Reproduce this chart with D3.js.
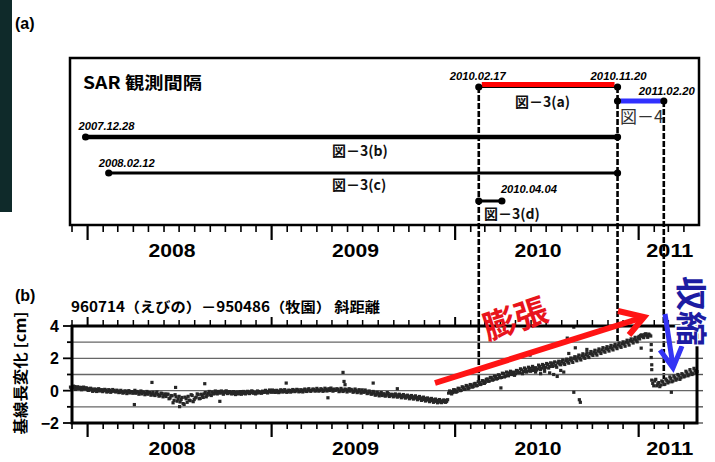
<!DOCTYPE html>
<html><head><meta charset="utf-8">
<script src="https://cdn.jsdelivr.net/npm/d3@7"></script>
<style>body{margin:0;background:#fff;} svg{display:block;}</style>
</head><body>
<svg id="c" width="715" height="462"></svg>
<script>
// ---------- data ----------
const years = ["2008", "2009", "2010", "2011"];
const yearLabelDates = ["2008-06-17", "2009-06-17", "2010-06-15", "2011-03-04"];

// SAR pairs (panel a)
const pairNames = ["図－3(a)", "図－4", "図－3(b)", "図－3(c)", "図－3(d)"];
const pairStart = ["2010-02-17", "2010-11-20", "2007-12-28", "2008-02-12", "2010-02-17"];
const pairEnd   = ["2010-11-20", "2011-02-20", "2010-11-20", "2010-11-20", "2010-04-04"];
const dateLabels = ["2007.12.28", "2008.02.12", "2010.02.17", "2010.11.20", "2011.02.20", "2010.04.04"];
const dateLabelDates = ["2007-12-28", "2008-02-12", "2010-02-17", "2010-11-20", "2011-02-20", "2010-04-04"];

// guide lines dropped from the SAR dates onto the GPS series
const guideDates = ["2010-02-17", "2010-11-20", "2011-02-20"];
const guideValues = [0.6, 3.0, 0.68];

const yTicks = [4, 2, 0, -2];

// GPS baseline change [cm]: two interleaved runs, one value every 4 days from each start date
const gpsStartA = ["2007-11-28", "2008-01-01", "2009-01-01", "2010-01-01", "2011-01-01"];
const gpsStartB = ["2007-11-30", "2008-01-03", "2009-01-03", "2010-01-03", "2011-01-03"];

const gps2007a = [0.22, 0.15, 0.25, 0.18, 0.12, 0.2, 0.14, 0.1, 0.17];
const gps2007b = [0.1, 0.28, 0.08, 0.24, 0.2, 0.06, 0.22, 0.16, 0.05];

const gps2008a = [
  0.12, 0.05, 0.1, 0.0, 0.08, 0.03, -0.02, 0.06,
  0.0, 0.04, -0.06, 0.02, -0.04, 0.01, -0.08, -0.02,
  -0.1, -0.05, -0.12, -0.03, -0.09, -0.14, -0.06, -0.11,
  -0.16, -0.08, -0.13, -0.2, -0.1, -0.17, -0.22, -0.12,
  -0.2, -0.26, -0.15, -0.24, -0.3, -0.18, -0.28, -0.36,
  -0.22, -0.45, -0.32, -0.6, -0.38, -0.52, -0.7, -0.42,
  -0.85, -0.5, -0.35, -0.62, -0.3, -0.55, -0.4, -0.25,
  -0.48, -0.3, -0.2, -0.38, -0.15, -0.25, -0.08, -0.18,
  -0.1, -0.05, -0.15, -0.08, -0.12, -0.02, -0.14, -0.09,
  -0.18, -0.1, -0.2, -0.12, -0.06, -0.16, -0.1, -0.14,
  -0.08, -0.12, -0.04, -0.1, -0.15, -0.06, -0.09, -0.03,
  -0.1, -0.05, -0.08, 0.0
];
const gps2008b = [
  0.02, 0.15, -0.04, 0.1, -0.05, 0.12, 0.04, -0.06,
  0.08, -0.08, 0.06, -0.1, 0.07, -0.05, 0.03, -0.12,
  0.02, -0.15, -0.02, -0.18, 0.0, -0.06, -0.16, 0.02,
  -0.05, -0.22, -0.02, -0.08, -0.25, -0.05, -0.12, -0.28,
  -0.1, -0.3, -0.08, -0.34, -0.15, -0.38, -0.2, -0.22,
  -0.5, -0.3, -0.75, -0.25, -0.65, -0.35, -0.55, -0.8,
  -0.4, -0.72, -0.58, -0.25, -0.68, -0.45, -0.2, -0.5,
  -0.22, -0.42, -0.12, -0.28, -0.05, -0.3, -0.2, -0.02,
  -0.2, -0.12, -0.02, -0.22, -0.04, -0.18, -0.06, -0.2,
  -0.06, -0.24, -0.08, -0.2, -0.22, -0.05, -0.2, -0.04,
  -0.18, -0.02, -0.16, -0.2, -0.02, -0.14, -0.16, -0.1,
  0.02, -0.14, 0.04, -0.1
];
const gps2009a = [
  -0.05, 0.0, -0.1, -0.03, -0.08, 0.02, -0.06, -0.02,
  -0.07, 0.01, -0.04, 0.03, -0.02, 0.05, -0.05, 0.0,
  0.04, -0.03, 0.06, 0.0, 0.03, 0.08, -0.01, 0.05,
  0.02, 0.07, 0.0, 0.09, 0.04, 0.01, 0.06, 0.1,
  0.03, 0.07, -0.02, 0.05, 0.0, 0.06, 0.02, -0.03,
  0.04, -0.05, 0.02, -0.08, -0.02, 0.05, -0.1, -0.04,
  -0.15, -0.08, -0.2, -0.12, -0.25, -0.16, -0.22, -0.3,
  -0.2, -0.28, -0.18, -0.3, -0.24, -0.33, -0.26, -0.35,
  -0.3, -0.38, -0.32, -0.4, -0.35, -0.44, -0.38, -0.46,
  -0.42, -0.5, -0.45, -0.55, -0.48, -0.58, -0.52, -0.62,
  -0.56, -0.66, -0.6, -0.7, -0.63, -0.68, -0.6, -0.66,
  -0.15, -0.05, -0.12, 0.0
];
const gps2009b = [
  0.04, -0.1, 0.02, -0.12, 0.05, -0.08, 0.06, -0.1,
  0.03, -0.09, 0.07, -0.06, 0.08, -0.07, 0.06, -0.08,
  0.1, -0.05, 0.12, -0.04, 0.1, -0.02, 0.14, -0.03,
  0.12, -0.04, 0.15, -0.02, 0.12, 0.16, -0.03, 0.02,
  0.12, -0.06, 0.14, -0.05, 0.1, -0.08, 0.12, 0.08,
  -0.1, 0.1, -0.12, 0.06, -0.15, -0.08, 0.04, -0.18,
  -0.02, -0.22, -0.05, -0.28, -0.1, -0.32, -0.12, -0.2,
  -0.34, -0.12, -0.36, -0.22, -0.38, -0.2, -0.4, -0.22,
  -0.44, -0.24, -0.46, -0.28, -0.5, -0.3, -0.52, -0.32,
  -0.56, -0.36, -0.6, -0.4, -0.64, -0.45, -0.68, -0.48,
  -0.72, -0.52, -0.75, -0.55, -0.74, -0.58, -0.72, -0.56,
  -0.02, -0.2, 0.06, -0.08
];
const gps2010a = [
  0.05, -0.05, 0.12, 0.02, 0.2, 0.1, 0.28, 0.18,
  0.35, 0.25, 0.45, 0.32, 0.5, 0.42, 0.6, 0.52,
  0.72, 0.6, 0.8, 0.68, 0.88, 0.75, 0.95, 0.82,
  1.05, 0.9, 0.98, 1.1, 1.0, 1.15, 1.05, 1.22,
  1.12, 1.28, 1.18, 1.32, 1.22, 1.38, 1.3, 1.25,
  1.42, 1.35, 1.5, 1.4, 1.55, 1.45, 1.62, 1.5,
  1.6, 1.7, 1.55, 1.72, 1.65, 1.8, 1.7, 1.85,
  1.78, 1.92, 1.85, 2.0, 1.95, 2.08, 2.0, 2.15,
  2.1, 2.22, 2.15, 2.3, 2.25, 2.38, 2.3, 2.45,
  2.4, 2.52, 2.45, 2.6, 2.55, 2.68, 2.6, 2.75,
  2.7, 2.82, 2.76, 2.9, 2.88, 3.0, 2.95, 3.1,
  3.05, 3.18, 3.12, 3.25
];
const gps2010b = [
  -0.08, 0.15, 0.0, 0.24, 0.08, 0.32, 0.12, 0.38,
  0.22, 0.42, 0.3, 0.55, 0.38, 0.62, 0.45, 0.7,
  0.58, 0.82, 0.65, 0.9, 0.72, 0.98, 0.8, 1.08,
  0.85, 1.15, 0.92, 1.2, 1.08, 0.95, 1.25, 1.12,
  1.35, 1.05, 1.4, 1.15, 1.45, 1.2, 1.5, 1.35,
  1.28, 1.58, 1.3, 1.62, 1.38, 1.68, 1.4, 1.72,
  1.5, 1.78, 1.45, 1.82, 1.6, 1.9, 1.62, 1.95,
  1.7, 2.02, 1.75, 2.1, 1.85, 2.2, 1.9, 2.28,
  2.0, 2.35, 2.05, 2.42, 2.18, 2.5, 2.2, 2.58,
  2.3, 2.66, 2.38, 2.72, 2.45, 2.8, 2.52, 2.86,
  2.6, 2.95, 2.68, 3.02, 2.75, 3.12, 2.82, 3.2,
  2.95, 3.3, 3.02, 3.36
];
const gps2011a = [
  3.3, 3.42, 3.35, 3.48, 3.4, 3.5, 3.38,
  0.45, 0.6, 0.3, 0.5, 0.35, 0.55, 0.4, 0.62,
  0.55, 0.75, 0.6, 0.8, 0.72, 0.9, 0.8, 0.98,
  0.9, 1.1, 0.98, 1.15, 1.05, 1.25, 1.18
];
const gps2011b = [
  3.2, 3.45, 3.28, 3.52, 3.3, 3.44, 0.65,
  0.3, 0.7, 0.42, 0.25, 0.6, 0.38, 0.72, 0.48,
  0.85, 0.55, 0.9, 0.65, 1.0, 0.7, 1.05, 0.85,
  1.2, 0.92, 1.3, 1.0, 1.38, 1.1
];
// isolated readings off the main band
const gpsExtraDates = [
  "2008-04-03", "2008-05-08", "2008-06-24", "2008-07-02", "2008-08-21", "2008-09-20",
  "2009-01-30", "2009-04-23", "2009-05-23", "2009-05-25", "2009-05-27", "2009-07-22", "2009-09-08",
  "2010-04-02", "2010-05-30", "2010-06-10", "2010-06-20", "2010-06-28", "2010-07-08", "2010-07-16",
  "2010-07-23", "2010-07-30", "2010-08-05", "2010-08-12", "2010-08-15", "2010-08-25", "2010-08-28",
  "2010-08-25", "2010-09-05", "2010-09-07", "2010-09-20",
  "2011-01-06", "2011-01-26", "2011-01-26", "2011-01-26", "2011-01-27", "2011-01-27", "2011-03-07"
];
const gpsExtraValues = [
  -0.86, 0.51, 0.2, -0.99, 0.43, -0.66,
  0.47, -0.44, 1.13, 0.57, 0.37, 0.47, 0.12,
  0.17, 2.2, 1.15, 1.05, 1.2, 1.1, 1.0,
  0.88, 1.25, 1.15, 3.25, 2.3, 3.93, 2.65,
  -0.1, -0.56, -0.72, 2.55,
  2.63, 2.85, 2.5, 2.05, 1.6, 1.3, -0.1
];

// ---------- drawing ----------
const svg = d3.select("#c");
const parse = d3.utcParse("%Y-%m-%d");
const x = d3.scaleUtc().domain([parse("2007-11-27"), parse("2011-05-01")]).range([70, 699]);
const y = d3.scaleLinear().domain([-2, 4]).range([423, 326]);
const JP = "'Noto Sans CJK JP', 'Noto Sans', sans-serif";
const LAT = "'Liberation Sans', Arial, sans-serif";

// dark strip at the left edge
svg.append("rect").attr("x", 0).attr("y", 0).attr("width", 12).attr("height", 212).attr("fill", "#0f2a2a");

// panel labels
svg.append("text").attr("x", 15).attr("y", 29).attr("font-family", LAT).attr("font-weight", "bold")
  .attr("font-size", 16).text("(a)");
svg.append("text").attr("x", 15).attr("y", 301).attr("font-family", LAT).attr("font-weight", "bold")
  .attr("font-size", 16).text("(b)");

// ---- panel (a): SAR observation intervals ----
const A = {left: 70, right: 699, top: 58, bottom: 225};
const months = d3.utcMonth.range(parse("2007-12-01"), parse("2011-05-01"));

svg.append("g").selectAll("line").data(months).join("line")
  .attr("x1", d => x(d)).attr("x2", d => x(d))
  .attr("y1", A.bottom).attr("y2", d => d.getUTCMonth() === 0 ? 240 : 232)
  .attr("stroke", "#000").attr("stroke-width", d => d.getUTCMonth() === 0 ? 2.2 : 1.6);

svg.append("text").attr("x", 83).attr("y", 89).attr("font-family", JP).attr("font-weight", "bold")
  .attr("font-size", 17).attr("textLength", 119).attr("lengthAdjust", "spacingAndGlyphs")
  .text("SAR 観測間隔");

// year labels for both panels
[257, 455].forEach(by => {
  svg.append("g").selectAll("text").data(years).join("text")
    .attr("x", (d, i) => x(parse(yearLabelDates[i]))).attr("y", by)
    .attr("text-anchor", "middle").attr("font-family", LAT).attr("font-weight", "bold")
    .attr("font-size", 19).attr("textLength", 47).attr("lengthAdjust", "spacingAndGlyphs")
    .text(d => d);
});

// row layout for the pairs
const rowY = [87, 101, 137, 173, 201];
const rowW = [2, 0, 4.5, 3, 3];
const rowColor = ["#ff0000", "#3030ff", null, null, null];
const labelPos = [[515, 107, 14], [620, 123, 17], [332, 156, 14], [332, 190, 14], [484, 219, 14]];

// guide lines from SAR dates down to the GPS series
const guideTop = [87, 87, 101];
svg.append("g").selectAll("line").data(guideDates).join("line")
  .attr("x1", d => x(parse(d))).attr("x2", d => x(parse(d)))
  .attr("y1", (d, i) => guideTop[i]).attr("y2", (d, i) => y(guideValues[i]))
  .attr("stroke", "#000").attr("stroke-width", 2.6).attr("stroke-dasharray", "6,2");

pairNames.forEach((name, i) => {
  const x0 = x(parse(pairStart[i])), x1 = x(parse(pairEnd[i]));
  const g = svg.append("g");
  if (rowW[i] > 0) {
    g.append("line").attr("x1", x0).attr("x2", x1).attr("y1", rowY[i]).attr("y2", rowY[i])
      .attr("stroke", "#000").attr("stroke-width", rowW[i]);
  }
  if (rowColor[i]) {
    const off = i === 0 ? -2.5 : 0;
    g.append("line").attr("x1", x0 + 3).attr("x2", x1 - 3).attr("y1", rowY[i] + off).attr("y2", rowY[i] + off)
      .attr("stroke", rowColor[i]).attr("stroke-width", 5);
  }
  [x0, x1].forEach(cx => g.append("circle").attr("cx", cx).attr("cy", rowY[i]).attr("r", 3.6).attr("fill", "#000"));
  const lp = labelPos[i];
  g.append("text").attr("x", lp[0]).attr("y", lp[1]).attr("font-family", JP).attr("font-weight", i === 1 ? "normal" : "bold")
    .attr("font-size", lp[2]).attr("fill", i === 1 ? "#333" : "#111").text(name);
});

// date labels above the dots
const dlOffset = [[-7, 130], [-10, 167], [-29, 80], [-27, 80], [-25, 95], [-1, 193]];
svg.append("g").selectAll("text").data(dateLabels).join("text")
  .attr("x", (d, i) => x(parse(dateLabelDates[i])) + dlOffset[i][0]).attr("y", (d, i) => dlOffset[i][1])
  .attr("font-family", LAT).attr("font-weight", "bold").attr("font-style", "italic")
  .attr("font-size", 10).attr("textLength", 56).attr("lengthAdjust", "spacingAndGlyphs")
  .text(d => d);

svg.append("rect").attr("x", A.left).attr("y", A.top).attr("width", A.right - A.left).attr("height", A.bottom - A.top)
  .attr("fill", "none").attr("stroke", "#000").attr("stroke-width", 2.5);

// ---- panel (b): GPS baseline length change ----
const B = {left: 72, right: 697, top: 326, bottom: 423};

svg.append("text").attr("x", 71).attr("y", 312).attr("font-family", JP).attr("font-weight", "bold")
  .attr("font-size", 14).attr("textLength", 309).attr("lengthAdjust", "spacingAndGlyphs")
  .text("960714（えびの）－950486（牧園）  斜距離");

svg.append("text").attr("transform", "translate(26,373) rotate(-90)").attr("text-anchor", "middle")
  .attr("font-family", JP).attr("font-weight", "bold").attr("font-size", 15)
  .attr("textLength", 123).attr("lengthAdjust", "spacingAndGlyphs").text("基線長変化 [cm]");

// grid lines
svg.append("g").selectAll("line").data(d3.range(-1, 4)).join("line")
  .attr("x1", B.left).attr("x2", B.right).attr("y1", d => y(d)).attr("y2", d => y(d))
  .attr("stroke", "#666").attr("stroke-width", 1.3);

// x ticks top and bottom
const bMonths = months.filter(d => x(d) > B.left && x(d) < B.right);
svg.append("g").selectAll("line").data(bMonths).join("line")
  .attr("x1", d => x(d)).attr("x2", d => x(d))
  .attr("y1", B.top).attr("y2", d => d.getUTCMonth() === 0 ? 317 : 320)
  .attr("stroke", "#000").attr("stroke-width", d => d.getUTCMonth() === 0 ? 2 : 1.5);
svg.append("g").selectAll("line").data(bMonths).join("line")
  .attr("x1", d => x(d)).attr("x2", d => x(d))
  .attr("y1", B.bottom).attr("y2", d => d.getUTCMonth() === 0 ? 437 : 429)
  .attr("stroke", "#000").attr("stroke-width", d => d.getUTCMonth() === 0 ? 2.2 : 1.6);

// y ticks left and right
const yAll = d3.range(-2, 5);
svg.append("g").selectAll("line").data(yAll).join("line")
  .attr("x1", d => d % 2 === 0 ? 63 : 67).attr("x2", B.left)
  .attr("y1", d => y(d)).attr("y2", d => y(d)).attr("stroke", "#000").attr("stroke-width", 1.8);
svg.append("g").selectAll("line").data(yAll).join("line")
  .attr("x1", B.right).attr("x2", 703)
  .attr("y1", d => y(d)).attr("y2", d => y(d)).attr("stroke", "#555").attr("stroke-width", 1.4);
svg.append("g").selectAll("text").data(yTicks).join("text")
  .attr("x", 59).attr("y", d => y(d) + 6).attr("text-anchor", "end")
  .attr("font-family", LAT).attr("font-weight", "bold").attr("font-size", 16)
  .text(d => d < 0 ? "−" + Math.abs(d) : d);

// GPS series
const gpsRuns = [
  [gpsStartA, [gps2007a, gps2008a, gps2009a, gps2010a, gps2011a]],
  [gpsStartB, [gps2007b, gps2008b, gps2009b, gps2010b, gps2011b]]
];
const pts = [];
gpsRuns.forEach(([starts, sets]) => {
  sets.forEach((arr, k) => {
    const t0 = parse(starts[k]);
    arr.forEach((v, i) => pts.push([d3.utcDay.offset(t0, 4 * i), v]));
  });
});
gpsExtraDates.forEach((d, i) => pts.push([parse(d), gpsExtraValues[i]]));
svg.append("g").selectAll("rect").data(pts).join("rect")
  .attr("x", d => x(d[0]) - 1.6).attr("y", d => y(d[1]) - 1.6)
  .attr("width", 3.2).attr("height", 3.2).attr("fill", "#262626");

svg.append("rect").attr("x", B.left).attr("y", B.top).attr("width", B.right - B.left).attr("height", B.bottom - B.top)
  .attr("fill", "none").attr("stroke", "#000").attr("stroke-width", 3);

// expansion arrow
svg.append("line").attr("x1", 435).attr("y1", 383).attr("x2", 641).attr("y2", 318)
  .attr("stroke", "#ff1414").attr("stroke-width", 6);
svg.append("path").attr("d", "M618,311 L644,317 L629,335").attr("fill", "none")
  .attr("stroke", "#ff1414").attr("stroke-width", 6).attr("stroke-linejoin", "miter");
svg.append("text").attr("transform", "translate(519,330) rotate(-18)").attr("text-anchor", "middle")
  .attr("font-family", JP).attr("font-weight", "bold").attr("font-size", 33).attr("fill", "#e8141c")
  .text("膨張");

// contraction arrow
svg.append("line").attr("x1", 665).attr("y1", 314).attr("x2", 673).attr("y2", 366)
  .attr("stroke", "#3434f4").attr("stroke-width", 5);
svg.append("path").attr("d", "M660,350 L673,368 L682,346").attr("fill", "none")
  .attr("stroke", "#3434f4").attr("stroke-width", 5);
svg.append("text").attr("transform", "translate(680,311) rotate(90)").attr("text-anchor", "middle")
  .attr("font-family", JP).attr("font-weight", "bold").attr("font-size", 31).attr("fill", "#1c1ca2")
  .attr("textLength", 70).attr("lengthAdjust", "spacingAndGlyphs")
  .attr("stroke", "#fff").attr("stroke-width", 3).attr("paint-order", "stroke")
  .text("収縮");
</script>
</body></html>
